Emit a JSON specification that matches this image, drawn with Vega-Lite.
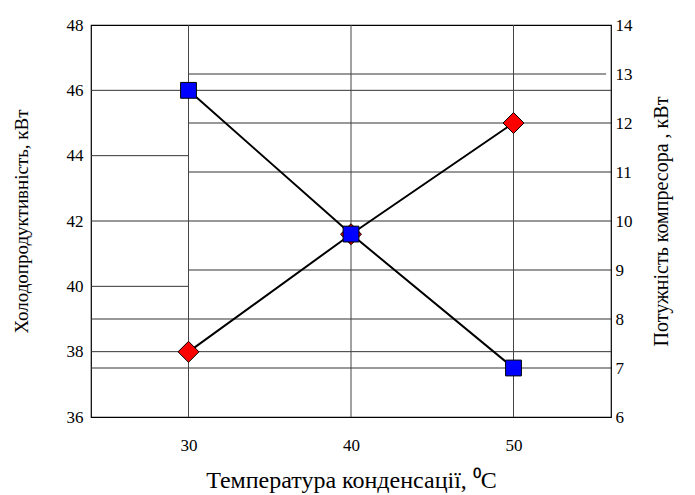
{
  "$schema": "https://vega.github.io/schema/vega-lite/v6.json",
  "width": 520,
  "height": 392,
  "autosize": {"type": "none"},
  "padding": {"left": 91, "top": 25, "right": 84, "bottom": 78},
  "config": {
    "view": {"stroke": "#000", "strokeWidth": 1.2},
    "font": "Liberation Serif",
    "axis": {"labelColor": "#000", "titleColor": "#000", "titleFontWeight": "normal", "ticks": false, "grid": false, "domain": false}
  },
  "datasets": {
    "hgrid": [
      {"level": 46.5, "from": 30, "to": 55.7},
      {"level": 46, "from": 24, "to": 56},
      {"level": 45, "from": 30, "to": 56},
      {"level": 44, "from": 24, "to": 30},
      {"level": 43.5, "from": 30, "to": 56},
      {"level": 42, "from": 24, "to": 56},
      {"level": 40.5, "from": 30, "to": 56},
      {"level": 40, "from": 24, "to": 30},
      {"level": 39, "from": 24, "to": 56},
      {"level": 38, "from": 24, "to": 56},
      {"level": 37.5, "from": 24, "to": 56}
    ],
    "vgrid": [{"t": 30}, {"t": 40}, {"t": 50}],
    "cooling": [
      {"t": 30, "q": 46},
      {"t": 40, "q": 41.6},
      {"t": 50, "q": 37.5}
    ],
    "power": [
      {"t": 30, "p": 7.33},
      {"t": 40, "p": 9.73},
      {"t": 50, "p": 12}
    ]
  },
  "layer": [
    {
      "layer": [
        {
          "data": {"name": "hgrid"},
          "mark": {"type": "rule", "color": "#333", "strokeWidth": 1},
          "encoding": {
            "x": {"field": "from", "type": "quantitative", "scale": {"domain": [24, 56], "nice": false, "zero": false}, "axis": {"values": [30, 40, 50], "labelFont": "Liberation Serif", "labelFontSize": 17, "labelPadding": 20, "title": "Температура конденсації, ⁰C", "titleFont": "Liberation Serif", "titleFontWeight": "normal", "titleFontSize": 24, "titlePadding": 15}},
            "x2": {"field": "to"},
            "y": {"field": "level", "type": "quantitative", "scale": {"domain": [36, 48], "nice": false, "zero": false}, "axis": null}
          }
        },
        {
          "data": {"name": "vgrid"},
          "mark": {"type": "rule", "color": "#444", "strokeWidth": 1},
          "encoding": {
            "x": {"field": "t", "type": "quantitative"}
          }
        }
      ]
    },
    {
      "data": {"name": "power"},
      "encoding": {
        "x": {"field": "t", "type": "quantitative"},
        "y": {"field": "p", "type": "quantitative", "scale": {"domain": [6, 14], "nice": false, "zero": false}, "axis": {"orient": "right", "values": [6, 7, 8, 9, 10, 11, 12, 13, 14], "labelFont": "Liberation Serif", "labelFontSize": 17, "labelPadding": 4, "title": "Потужність компресора , кВт", "titleFont": "Liberation Serif", "titleFontWeight": "normal", "titleFontSize": 20, "titleAngle": 270, "titlePadding": 39}}
      },
      "layer": [
        {"mark": {"type": "line", "color": "#000", "strokeWidth": 2}},
        {"mark": {"type": "point", "shape": "diamond", "size": 440, "filled": true, "fill": "#FF0000", "stroke": "#000", "strokeWidth": 1, "opacity": 1}}
      ]
    },
    {
      "data": {"name": "cooling"},
      "encoding": {
        "x": {"field": "t", "type": "quantitative"},
        "y": {"field": "q", "type": "quantitative", "scale": {"domain": [36, 48], "nice": false, "zero": false}, "axis": {"orient": "left", "values": [36, 38, 40, 42, 44, 46, 48], "labelFont": "Liberation Serif", "labelFontSize": 17, "labelPadding": 8, "title": "Холодопродуктивність, кВт", "titleFont": "Liberation Serif", "titleFontWeight": "normal", "titleFontSize": 19, "titlePadding": 35}}
      },
      "layer": [
        {"mark": {"type": "line", "color": "#000", "strokeWidth": 2}},
        {"mark": {"type": "point", "shape": "square", "size": 250, "filled": true, "fill": "#0000FF", "stroke": "#000", "strokeWidth": 1, "opacity": 1}}
      ]
    }
  ],
  "resolve": {"scale": {"y": "independent"}, "axis": {"y": "independent"}}
}
